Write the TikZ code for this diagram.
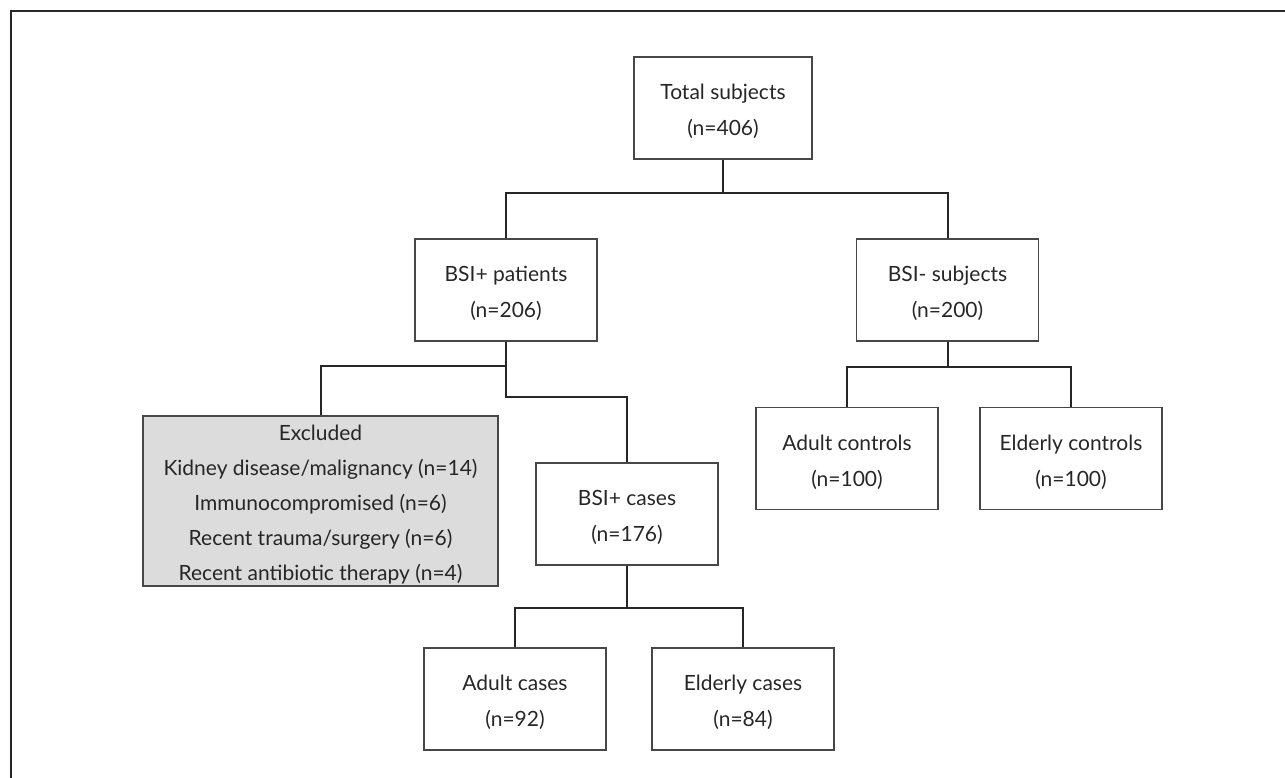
\documentclass[tikz,border=0pt]{standalone}
\usepackage{fontspec}
\setmainfont{Lato}
\definecolor{ink}{HTML}{262626}
\definecolor{exfill}{HTML}{DCDCDD}
\begin{document}
\begin{tikzpicture}[x=1pt,y=-1pt,
  box/.style={draw=ink!85, line width=1.4pt, inner sep=0pt,
    minimum width=182pt, minimum height=102pt},
  lbl/.style={text=ink, align=center, inner sep=0pt, yshift=-3.5pt, font=\fontsize{21}{36}\selectfont},
  exlbl/.style={lbl, font=\fontsize{21}{35}\selectfont},
  exbox/.style={box, fill=exfill, minimum width=355pt, minimum height=170pt},
  conn/.style={draw=ink, line width=2pt}]
\useasboundingbox (0,0) rectangle (1285,778);
\draw[ink, line width=1.6pt] (11,778) -- (11,11) -- (1285,11);

\node[box, minimum width=178pt, label={[lbl]center:{Total subjects\\(n=406)}}] (total) at (723,108) {};
\node[box, label={[lbl]center:{BSI+ patients\\(n=206)}}] (bp) at (506,290) {};
\node[box, label={[lbl]center:{BSI- subjects\\(n=200)}}] (bm) at (947.5,290) {};
\node[exbox, label={[exlbl]center:{Excluded\\Kidney disease/malignancy (n=14)\\Immunocompromised (n=6)\\Recent trauma/surgery (n=6)\\Recent antibiotic therapy (n=4)}}] (ex) at (320.5,501) {};
\node[box, label={[lbl]center:{BSI+ cases\\(n=176)}}] (bc) at (627,514) {};
\node[box, label={[lbl]center:{Adult controls\\(n=100)}}] (ac) at (847,458.5) {};
\node[box, label={[lbl]center:{Elderly controls\\(n=100)}}] (ec) at (1071,458.5) {};
\node[box, label={[lbl]center:{Adult cases\\(n=92)}}] (aca) at (515,699) {};
\node[box, label={[lbl]center:{Elderly cases\\(n=84)}}] (eca) at (743,699) {};

\path[conn] (total.south) -- (total.south |- 0,193) -| (bp.north);
\path[conn] (total.south |- 0,193) -| (bm.north);
\path[conn] (bp.south) -- (bp.south |- 0,366) -| (ex.north);
\path[conn] (bp.south |- 0,366) -- (bp.south |- 0,397) -| (bc.north);
\path[conn] (bm.south) -- (bm.south |- 0,367) -| (ac.north);
\path[conn] (bm.south |- 0,367) -| (ec.north);
\path[conn] (bc.south) -- (bc.south |- 0,608) -| (aca.north);
\path[conn] (bc.south |- 0,608) -| (eca.north);
\end{tikzpicture}
\end{document}
